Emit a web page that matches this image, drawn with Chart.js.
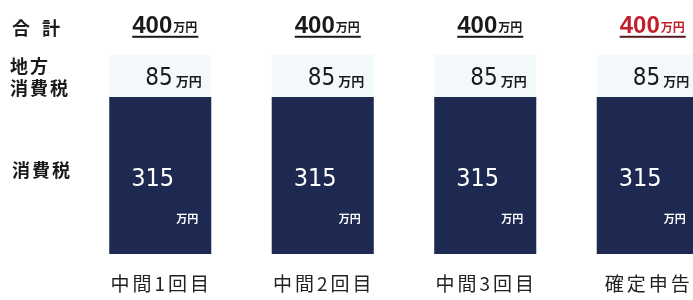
<!DOCTYPE html>
<html><head><meta charset="utf-8">
<script src="https://cdn.jsdelivr.net/npm/chart.js@4/dist/chart.umd.min.js"></script>
<style>html,body{margin:0;padding:0;background:#fff;overflow:hidden;width:693px;height:300px}
#wrap{width:730px;height:300px}</style>
</head><body><div id="wrap"><canvas id="c" width="730" height="300"></canvas></div>
<script>
const categories = ['中間1回目','中間2回目','中間3回目','確定申告'];
const nationalTax = [315,315,315,315];
const localTax = [85,85,85,85];
const rowLabels = ['合 計', ['地方','消費税'], '消費税'];
const unit = '万円';
const totalColors = ['#1a1a1a','#1a1a1a','#1a1a1a','#c41e2a'];

const CJK = "'Noto Sans CJK JP', sans-serif";
const NARROW = "'Liberation Sans Narrow', 'DejaVu Sans Condensed', 'Liberation Sans', sans-serif";

const labelPlugin = {
  id: 'labels',
  afterDraw(chart) {
    const ctx = chart.ctx;
    const y = chart.scales.y;
    const m0 = chart.getDatasetMeta(0);
    ctx.save();
    // left row labels
    ctx.fillStyle = '#1a1a1a';
    ctx.textBaseline = 'middle';
    ctx.textAlign = 'left';
    ctx.font = "bold 18px " + CJK;
    ctx.letterSpacing = '4px';
    ctx.fillText(rowLabels[0], 12, 28);
    ctx.letterSpacing = '2px';
    ctx.fillText(rowLabels[1][0], 10, 66);
    ctx.fillText(rowLabels[1][1], 10, 88);
    ctx.fillText(rowLabels[2], 12, 170);
    ctx.letterSpacing = '0px';

    categories.forEach((cat, i) => {
      const bar = m0.data[i];
      const cx = bar.x;
      const total = nationalTax[i] + localTax[i];
      const topPx = y.getPixelForValue(total);
      const left = cx - bar.width / 2;
      // total label
      ctx.textBaseline = 'alphabetic';
      ctx.fillStyle = totalColors[i];
      ctx.font = "bold 24px 'Liberation Sans', Arial, sans-serif";
      const t = String(total);
      const tw = ctx.measureText(t).width;
      ctx.font = "bold 12px " + CJK;
      const uw = ctx.measureText(unit).width;
      const sx = cx + 4 - (tw + uw) / 2;
      ctx.font = "bold 24px 'Liberation Sans', Arial, sans-serif";
      ctx.textAlign = 'left';
      ctx.fillText(t, sx, topPx - 22);
      ctx.font = "bold 12px " + CJK;
      ctx.fillText(unit, sx + tw + 1, topPx - 23);
      ctx.fillStyle = i === 3 ? '#5a1a1e' : '#1a1a1a';
      ctx.fillRect(sx, topPx - 19, tw + uw + 2, 2);

      // local tax label
      ctx.fillStyle = '#1a1a1a';
      ctx.font = "24px " + NARROW;
      const l = String(localTax[i]);
      const lw = ctx.measureText(l).width;
      ctx.fillText(l, cx - 15, topPx + 30);
      ctx.font = "bold 13px " + CJK;
      ctx.fillText(unit, cx - 15 + lw + 3, topPx + 31);

      // national tax label
      ctx.fillStyle = '#ffffff';
      ctx.font = "25px " + NARROW;
      ctx.fillText(String(nationalTax[i]), left + 22, y.getPixelForValue(nationalTax[i]) + 89);
      ctx.font = "bold 11px " + CJK;
      ctx.fillText(unit, left + 67, y.getPixelForValue(nationalTax[i]) + 126);

      // category label
      ctx.fillStyle = '#222';
      ctx.font = "19px " + CJK;
      ctx.letterSpacing = '3px';
      ctx.textAlign = 'center';
      ctx.textBaseline = 'middle';
      ctx.fillText(cat, cx + 1, 284);
      ctx.letterSpacing = '0px';
    });
    ctx.restore();
  }
};

new Chart(document.getElementById('c'), {
  type: 'bar',
  data: {
    labels: categories,
    datasets: [
      { label: '消費税', data: nationalTax, backgroundColor: '#1d2951', borderWidth: 0 },
      { label: '地方消費税', data: localTax, backgroundColor: '#f3f9fb', borderWidth: 0 }
    ]
  },
  options: {
    responsive: false,
    animation: false,
    layout: { padding: { left: 79, right: 1, top: 0, bottom: 46 } },
    datasets: { bar: { barPercentage: 1, categoryPercentage: 0.628 } },
    plugins: { legend: { display: false }, tooltip: { enabled: false } },
    scales: {
      x: { display: false, stacked: true },
      y: { display: false, stacked: true, min: 0, max: 510 }
    }
  },
  plugins: [labelPlugin]
});
</script>
</body></html>
